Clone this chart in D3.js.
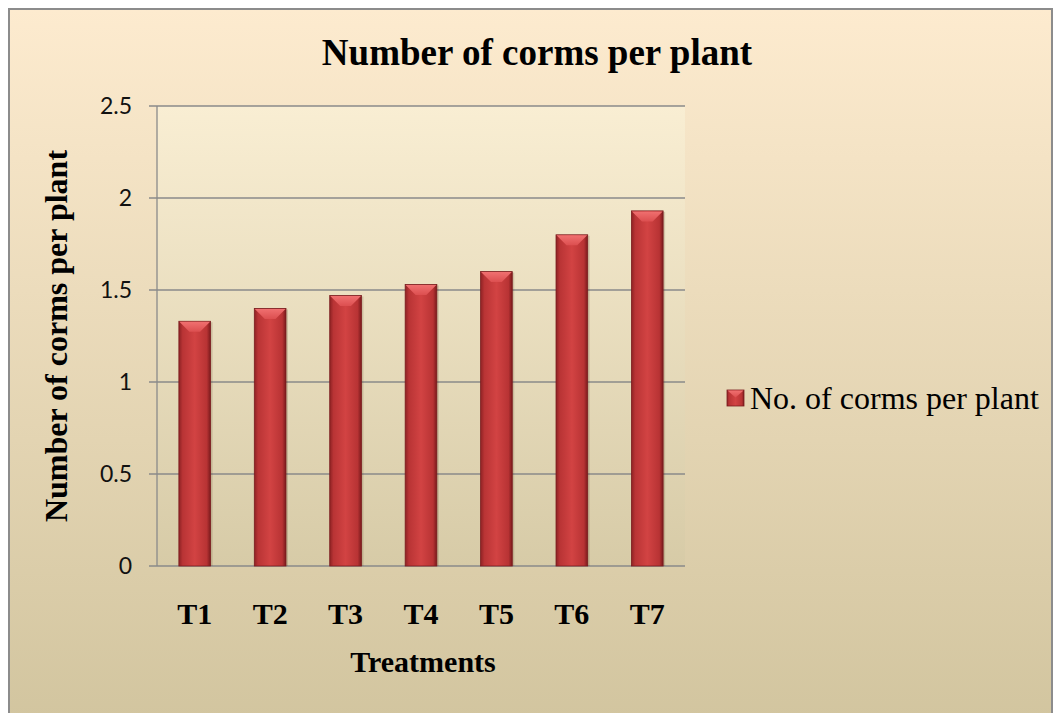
<!DOCTYPE html>
<html>
<head>
<meta charset="utf-8">
<script src="https://cdn.jsdelivr.net/npm/d3@7"></script>
<style>
  html, body { margin: 0; padding: 0; background: #fff; }
  svg { display: block; }
</style>
</head>
<body>
<div id="chart"></div>
<script>
// chart data
const categories = ['T1', 'T2', 'T3', 'T4', 'T5', 'T6', 'T7'];
const cormValues = [1.33, 1.40, 1.47, 1.53, 1.60, 1.80, 1.93];
const yTicks = [0, 0.5, 1, 1.5, 2, 2.5];
const seriesName = 'No. of corms per plant';
const chartTitle = 'Number of corms per plant';
const yTitle = 'Number of corms per plant';
const xTitle = 'Treatments';

const width = 1055;
const height = 713;
const plot = {left: 157, top: 106, right: 685, bottom: 566};
const serif = '"Liberation Serif", "Times New Roman", serif';
const sans = 'Lato, "Open Sans", sans-serif';

const svg = d3.select('#chart').append('svg')
  .attr('width', width)
  .attr('height', height);

const defs = svg.append('defs');

const bgGrad = defs.append('linearGradient').attr('id', 'bgGrad')
  .attr('x1', 0).attr('y1', 0).attr('x2', 0).attr('y2', 1);
bgGrad.append('stop').attr('offset', '0%').attr('stop-color', '#fdebcf');
bgGrad.append('stop').attr('offset', '100%').attr('stop-color', '#d2c59f');

const plotGrad = defs.append('linearGradient').attr('id', 'plotGrad')
  .attr('x1', 0).attr('y1', 0).attr('x2', 0).attr('y2', 1);
plotGrad.append('stop').attr('offset', '0%').attr('stop-color', '#f9eed3');
plotGrad.append('stop').attr('offset', '100%').attr('stop-color', '#d7cba7');

const barGrad = defs.append('linearGradient').attr('id', 'barGrad')
  .attr('x1', 0).attr('y1', 0).attr('x2', 1).attr('y2', 0);
barGrad.append('stop').attr('offset', '0%').attr('stop-color', '#8e2224');
barGrad.append('stop').attr('offset', '12%').attr('stop-color', '#b93435');
barGrad.append('stop').attr('offset', '50%').attr('stop-color', '#d24343');
barGrad.append('stop').attr('offset', '88%').attr('stop-color', '#b83334');
barGrad.append('stop').attr('offset', '100%').attr('stop-color', '#7a1a1c');

const capGrad = defs.append('linearGradient').attr('id', 'capGrad')
  .attr('x1', 0).attr('y1', 0).attr('x2', 0).attr('y2', 1);
capGrad.append('stop').attr('offset', '0%').attr('stop-color', '#f07070');
capGrad.append('stop').attr('offset', '100%').attr('stop-color', '#dc4f50');

// chart background + border
svg.append('rect')
  .attr('x', 9).attr('y', 9)
  .attr('width', 1043).attr('height', 712)
  .attr('fill', 'url(#bgGrad)')
  .attr('stroke', '#8c8c8c')
  .attr('stroke-width', 2);

svg.append('rect')
  .attr('x', plot.left).attr('y', plot.top)
  .attr('width', plot.right - plot.left)
  .attr('height', plot.bottom - plot.top)
  .attr('fill', 'url(#plotGrad)');

const xScale = d3.scaleBand().domain(categories)
  .range([plot.left, plot.right])
  .paddingInner(0.58).paddingOuter(0.29);
const yScale = d3.scaleLinear().domain([0, 2.5])
  .range([plot.bottom, plot.top]);

// gridlines
svg.append('g').selectAll('line').data(yTicks).enter().append('line')
  .attr('x1', plot.left - 8)
  .attr('x2', plot.right)
  .attr('y1', function(d) { return yScale(d); })
  .attr('y2', function(d) { return yScale(d); })
  .attr('stroke', '#8a8a8a')
  .attr('stroke-width', 1.3);

// y axis line
svg.append('line')
  .attr('x1', plot.left).attr('x2', plot.left)
  .attr('y1', plot.top).attr('y2', plot.bottom)
  .attr('stroke', '#8a8a8a')
  .attr('stroke-width', 1.3);

// y tick labels via d3 axis
const yAxis = d3.axisLeft(yScale).tickValues(yTicks).tickSize(0).tickPadding(25)
  .tickFormat(d3.format('~g'));
const yAxisG = svg.append('g')
  .attr('transform', 'translate(' + plot.left + ',0)')
  .call(yAxis);
yAxisG.select('.domain').remove();
yAxisG.selectAll('text')
  .attr('font-family', sans)
  .attr('font-size', 23)
  .attr('fill', '#111');

// bars
const bars = svg.append('g');
const barW = xScale.bandwidth();
bars.selectAll('rect.shadow').data(cormValues).enter().append('rect')
  .attr('class', 'shadow')
  .attr('x', function(d, i) { return xScale(categories[i]) + 2; })
  .attr('y', function(d) { return yScale(d) + 1; })
  .attr('width', barW)
  .attr('height', function(d) { return yScale(0) - yScale(d) - 1; })
  .attr('fill', 'rgba(80,50,20,0.18)');
bars.selectAll('rect.bar').data(cormValues).enter().append('rect')
  .attr('class', 'bar')
  .attr('x', function(d, i) { return xScale(categories[i]); })
  .attr('y', function(d) { return yScale(d); })
  .attr('width', barW)
  .attr('height', function(d) { return yScale(0) - yScale(d); })
  .attr('fill', 'url(#barGrad)')
  .attr('stroke', '#7a1c1e')
  .attr('stroke-width', 0.8);
bars.selectAll('path.cap').data(cormValues).enter().append('path')
  .attr('class', 'cap')
  .attr('d', function(d, i) {
    const x0 = xScale(categories[i]) + 0.5;
    const x1 = x0 + barW - 1;
    const y0 = yScale(d) + 0.5;
    const inset = 10;
    return 'M' + x0 + ',' + y0 + 'L' + x1 + ',' + y0 +
      'L' + (x1 - inset) + ',' + (y0 + inset) +
      'L' + (x0 + inset) + ',' + (y0 + inset) + 'Z';
  })
  .attr('fill', 'url(#capGrad)');

// x tick labels
const xAxis = d3.axisBottom(xScale).tickSize(0);
const xAxisG = svg.append('g')
  .attr('transform', 'translate(0,' + plot.bottom + ')')
  .call(xAxis);
xAxisG.select('.domain').remove();
xAxisG.selectAll('text')
  .attr('y', 58)
  .attr('dy', 0)
  .attr('font-family', serif)
  .attr('font-weight', 'bold')
  .attr('font-size', 30)
  .attr('fill', '#000');

// titles
svg.append('text')
  .attr('x', 537).attr('y', 65)
  .attr('text-anchor', 'middle')
  .attr('font-family', serif)
  .attr('font-weight', 'bold')
  .attr('font-size', 37)
  .text(chartTitle);

svg.append('text')
  .attr('transform', 'translate(67,' + ((plot.top + plot.bottom) / 2) + ') rotate(-90)')
  .attr('text-anchor', 'middle')
  .attr('font-family', serif)
  .attr('font-weight', 'bold')
  .attr('font-size', 32)
  .text(yTitle);

svg.append('text')
  .attr('x', (plot.left + plot.right) / 2 + 2).attr('y', 672)
  .attr('text-anchor', 'middle')
  .attr('font-family', serif)
  .attr('font-weight', 'bold')
  .attr('font-size', 30)
  .text(xTitle);

// legend
const legend = svg.append('g').attr('transform', 'translate(727,390)');
legend.append('rect')
  .attr('width', 17).attr('height', 16)
  .attr('fill', 'url(#barGrad)')
  .attr('stroke', '#7a1c1e').attr('stroke-width', 0.8);
legend.append('path')
  .attr('d', 'M0.5,0.5L16.5,0.5L8.5,7.5Z')
  .attr('fill', 'url(#capGrad)');
legend.append('text')
  .attr('x', 23).attr('y', 19)
  .attr('font-family', serif)
  .attr('font-size', 32)
  .attr('fill', '#000')
  .text(seriesName);
</script>
</body>
</html>
